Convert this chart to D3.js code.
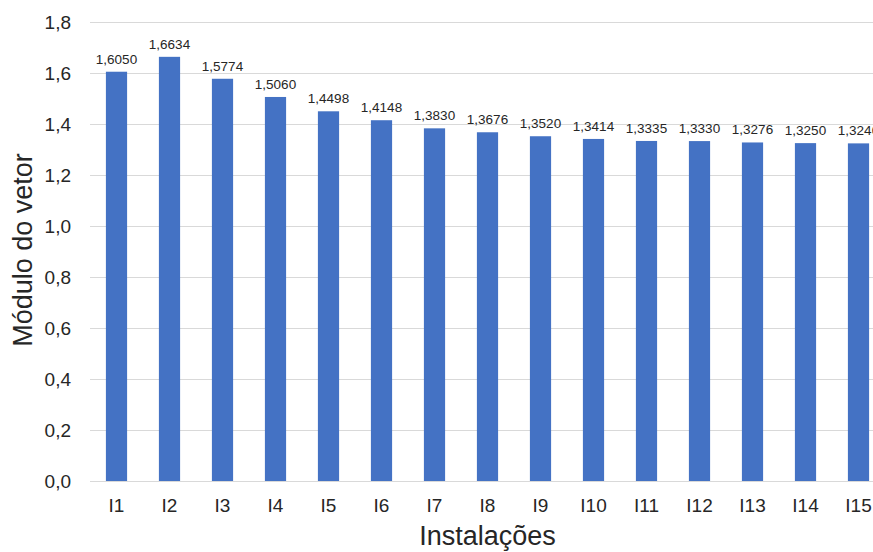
<!DOCTYPE html>
<html lang="pt">
<head>
<meta charset="UTF-8">
<title>Módulo do vetor por instalação</title>
<script src="https://d3js.org/d3.v7.min.js"></script>
<style>
  body { margin: 0; background: #fff; }
  svg { display: block; font-family: "Liberation Sans", Arial, sans-serif; }
  .grid line { stroke: #d9d9d9; stroke-width: 1px; }
</style>
</head>
<body>
<div id="chart"></div>
<script>
// data
var installations = ['I1','I2','I3','I4','I5','I6','I7','I8','I9','I10','I11','I12','I13','I14','I15'];
var vectorModule = [1.6050, 1.6634, 1.5774, 1.5060, 1.4498, 1.4148, 1.3830, 1.3676, 1.3520, 1.3414, 1.3335, 1.3330, 1.3276, 1.3250, 1.3240];
var yTicks = [0, 0.2, 0.4, 0.6, 0.8, 1.0, 1.2, 1.4, 1.6, 1.8];

var width = 873, height = 552;
// plot area runs off the right edge, like the original crop
var plotLeft = 90, plotRight = 885, plotTop = 22, plotBottom = 481;

var svg = d3.select('#chart').append('svg')
  .attr('width', width)
  .attr('height', height);

var x = d3.scaleBand()
  .domain(installations)
  .range([plotLeft, plotRight])
  .paddingInner(0.6)
  .paddingOuter(0.3);

var y = d3.scaleLinear()
  .domain([0, 1.8])
  .range([plotBottom, plotTop]);

var fmtTick = function (d) { return d.toFixed(1).replace('.', ','); };
var fmtValue = function (d) { return d.toFixed(4).replace('.', ','); };

/** horizontal gridlines */
svg.append('g')
  .attr('class', 'grid')
  .selectAll('line')
  .data(yTicks)
  .enter().append('line')
  .attr('x1', plotLeft)
  .attr('x2', plotRight)
  .attr('y1', function (d) { return Math.round(y(d)) + 0.5; })
  .attr('y2', function (d) { return Math.round(y(d)) + 0.5; });

/** y axis labels */
var yAxis = svg.append('g')
  .attr('transform', 'translate(' + 71 + ',0)')
  .call(d3.axisLeft(y).tickValues(yTicks).tickFormat(fmtTick).tickSize(0).tickPadding(0));
yAxis.select('.domain').remove();
yAxis.selectAll('text')
  .attr('fill', '#262626')
  .style('font-size', '19px')
  .style('font-family', '"Liberation Sans", Arial, sans-serif');

/** x axis labels */
var xAxis = svg.append('g')
  .attr('transform', 'translate(0,' + plotBottom + ')')
  .call(d3.axisBottom(x).tickSize(0).tickPadding(18));
xAxis.select('.domain').remove();
xAxis.selectAll('text')
  .attr('fill', '#262626')
  .style('font-size', '19px')
  .style('font-family', '"Liberation Sans", Arial, sans-serif');

/** bars */
svg.append('g')
  .selectAll('rect')
  .data(vectorModule)
  .enter().append('rect')
  .attr('x', function (d, i) { return x(installations[i]); })
  .attr('y', function (d) { return y(d); })
  .attr('width', x.bandwidth())
  .attr('height', function (d) { return y(0) - y(d); })
  .attr('fill', '#4472c4');

/** value labels */
svg.append('g')
  .selectAll('text')
  .data(vectorModule)
  .enter().append('text')
  .attr('x', function (d, i) { return x(installations[i]) + x.bandwidth() / 2; })
  .attr('y', function (d) { return y(d) - 8; })
  .attr('text-anchor', 'middle')
  .attr('fill', '#262626')
  .style('font-size', '13.5px')
  .text(fmtValue);

/** axis titles */
svg.append('text')
  .attr('x', (plotLeft + plotRight) / 2)
  .attr('y', 545)
  .attr('text-anchor', 'middle')
  .attr('fill', '#262626')
  .style('font-size', '27px')
  .text('Instalações');

svg.append('text')
  .attr('transform', 'translate(' + 32 + ',' + 250 + ') rotate(-90)')
  .attr('text-anchor', 'middle')
  .attr('fill', '#262626')
  .style('font-size', '27px')
  .text('Módulo do vetor');
</script>
</body>
</html>
